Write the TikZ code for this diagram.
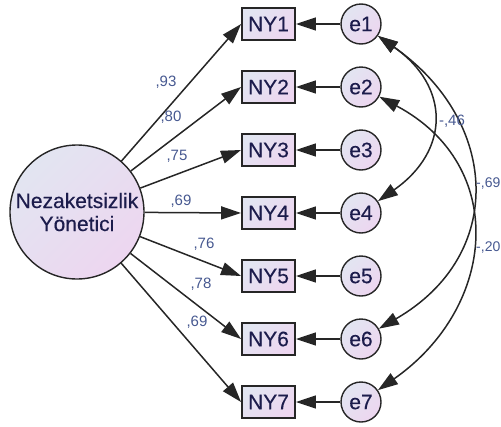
\documentclass[tikz,border=0pt]{standalone}
\usepackage{fontspec}
\setmainfont{Liberation Sans}
\newfontfamily\nodefont[FakeBold=0.35]{Liberation Sans}
\usetikzlibrary{arrows.meta}

\definecolor{fillA}{HTML}{E2E5F1}
\definecolor{fillB}{HTML}{EDD6F0}
\definecolor{edgec}{HTML}{262626}
\definecolor{txt}{HTML}{1C1C4C}
\definecolor{lbl}{HTML}{465890}

\tikzset{
  shadefill/.style={top color=fillA, bottom color=fillB, shading angle=45},
  lat/.style={circle, draw=edgec, line width=1.4pt, minimum size=134pt, inner sep=0pt,
    shadefill, text=txt, font=\nodefont\fontsize{21}{23}\selectfont, align=center},
  err/.style={circle, draw=edgec, line width=1.4pt, minimum size=40pt, inner sep=0pt,
    shadefill, text=txt, font=\nodefont\fontsize{21}{23}\selectfont},
  obs/.style={rectangle, draw=edgec, line width=1.9pt, minimum width=53pt, minimum height=32pt,
    inner sep=0pt, shadefill, text=txt, font=\nodefont\fontsize{21}{23}\selectfont},
  tip/.tip={Triangle[length=20pt,width=13pt]},
  ld/.style={draw=edgec, line width=1.5pt, -tip},
  cv/.style={draw=edgec, line width=1.5pt, tip-tip},
  wlab/.style={text=lbl, font=\fontsize{15}{15}\selectfont, inner sep=0pt},
}

\begin{document}
\begin{tikzpicture}[x=1pt, y=-1pt]
  \useasboundingbox (0,0) rectangle (501,426);

  % latent factor
  \node[lat] (F) at (77,212) {Nezaketsizlik\\Yönetici};

  % indicators, their error terms and the loading paths
  \foreach \i in {1,...,7} {
    \pgfmathsetmacro\yy{24+63*(\i-1)}
    \node[obs] (NY\i) at (268.5,\yy) {NY\i};
    \node[err] (e\i) at (361,\yy) {e\i};
    \draw[ld] (e\i) -- (NY\i);
    \draw[ld] (F) -- (NY\i.west);
  }

  % standardized loadings
  \node[wlab] (l1) at (166,82)  {,93};
  \node[wlab] (l2) at (171,117) {,80};
  \node[wlab] (l3) at (177,156) {,75};
  \node[wlab] (l4) at (181,201) {,69};
  \node[wlab] (l5) at (204,244) {,76};
  \node[wlab] (l6) at (201,284) {,78};
  \node[wlab] (l7) at (197,322) {,69};

  % error covariances
  \draw[cv] (e1) to[out=-35, in=35, looseness=1.37] (e4);
  \draw[cv] (e1) to[out=-35, in=30, looseness=1.29] (e6);
  \draw[cv] (e2) to[out=-28, in=35, looseness=1.27] (e7);

  \node[wlab] (c14) at (452,121) {-,46};
  \node[wlab, anchor=west, font=\fontsize{14}{14}\selectfont] (c16) at (476,184) {-,69};
  \node[wlab, anchor=west, font=\fontsize{14}{14}\selectfont] (c27) at (476,248) {-,20};
\end{tikzpicture}
\end{document}
